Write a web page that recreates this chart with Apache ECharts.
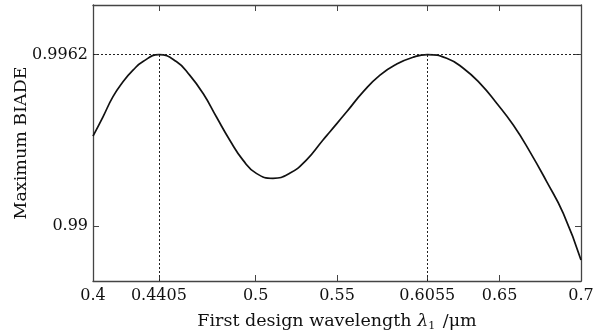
<!DOCTYPE html>
<html>
<head>
<meta charset="utf-8">
<script src="https://cdn.jsdelivr.net/npm/echarts@6/dist/echarts.min.js"></script>
<style>
  html, body { margin: 0; padding: 0; background: #fff; }
  #chart { width: 610px; height: 334px; }
</style>
</head>
<body>
<div id="chart"></div>
<script>
// 曲线数据
const wavelength = [0.4, 0.40615, 0.41229, 0.41844, 0.42459, 0.43074, 0.4405, 0.45123, 0.45943, 0.46762,
  0.47582, 0.48402, 0.49221, 0.50041, 0.51066, 0.5209, 0.53115, 0.54139, 0.54569, 0.55596,
  0.56617, 0.57643, 0.5867, 0.5969, 0.6055, 0.61744, 0.62764, 0.63791, 0.64817, 0.65837,
  0.66863, 0.6789, 0.68911, 0.7]
const biade = [0.99325, 0.99395, 0.99468, 0.99522, 0.99564, 0.99595, 0.9962, 0.99595, 0.99546, 0.9948,
  0.99395, 0.99311, 0.99238, 0.9919, 0.99172, 0.9919, 0.99238, 0.99311, 0.99341, 0.99413,
  0.99486, 0.99546, 0.99586, 0.99611, 0.9962, 0.99607, 0.99571, 0.99516, 0.99444, 0.99365,
  0.99268, 0.9916, 0.99045, 0.98876]

// 刻度
const xTicks = [0.4, 0.4405, 0.5, 0.55, 0.6055, 0.65, 0.7]
const yTicks = [0.99, 0.9962]
const xRange = [0.4, 0.7]
const yRange = [0.988, 0.998]

// 峰值
const peakX = [0.4405, 0.6055]
const peakY = 0.9962

const font = "DejaVu Serif"
const axisColor = "#444"

function makeAxis(kind, position, showLabel, range, ticks) {
  return {
    type: "value",
    position: position,
    min: range[0],
    max: range[1],
    axisLine: { show: true, onZero: false, lineStyle: { color: axisColor, width: 1.3 } },
    axisTick: { show: true, inside: true, length: 6, customValues: ticks, lineStyle: { color: axisColor } },
    axisLabel: {
      show: showLabel,
      customValues: ticks,
      color: "#111",
      fontFamily: font,
      fontSize: 16,
      margin: kind === "x" ? 7 : 5
    },
    splitLine: { show: false }
  }
}

const chart = echarts.init(document.getElementById("chart"))

const markData = [
  [{ coord: [xRange[0], peakY] }, { coord: [xRange[1], peakY] }]
]
peakX.forEach(function (px) {
  markData.push([{ coord: [px, yRange[0]] }, { coord: [px, peakY] }])
})

const bottomX = makeAxis("x", "bottom", true, xRange, xTicks)
bottomX.name = "First design wavelength {i|λ}{s|1} /μm"
bottomX.nameLocation = "middle"
bottomX.nameGap = 30
bottomX.nameMoveOverlap = false
bottomX.nameTextStyle = {
  color: "#111",
  fontFamily: font,
  fontSize: 17.5,
  rich: {
    i: { fontFamily: font, fontSize: 17.5, fontStyle: "italic", color: "#111" },
    s: { fontFamily: font, fontSize: 11, color: "#111", verticalAlign: "bottom", padding: [10, 2, 0, 0] }
  }
}

const leftY = makeAxis("y", "left", true, yRange, yTicks)
leftY.name = "Maximum BIADE"
leftY.nameLocation = "middle"
leftY.nameGap = 63
leftY.nameMoveOverlap = false
leftY.nameTextStyle = { color: "#111", fontFamily: font, fontSize: 17.5 }

const option = {
  animation: false,
  backgroundColor: "#fff",
  grid: { left: 93, right: 29, top: 5, bottom: 53, outerBoundsMode: "none" },
  xAxis: [bottomX, makeAxis("x", "top", false, xRange, xTicks)],
  yAxis: [leftY, makeAxis("y", "right", false, yRange, yTicks)],
  series: [
    {
      type: "line",
      data: wavelength.map(function (w, i) { return [w, biade[i]] }),
      smooth: 0.5,
      showSymbol: false,
      lineStyle: { color: "#111", width: 1.7 },
      markLine: {
        silent: true,
        symbol: "none",
        label: { show: false },
        lineStyle: { color: "#222", type: [2, 2], width: 1 },
        data: markData
      }
    }
  ]
}
chart.setOption(option)
</script>
</body>
</html>
